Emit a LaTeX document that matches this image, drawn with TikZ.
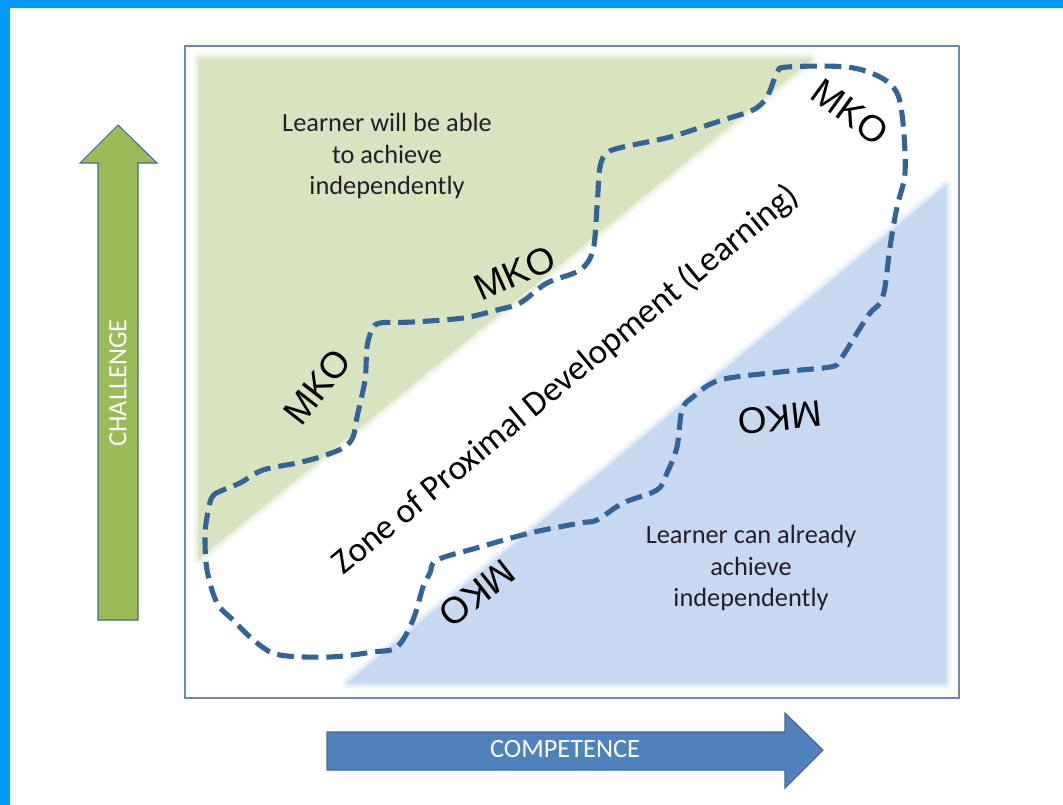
\documentclass[tikz,border=0pt]{standalone}
\usepackage{fontspec}
\setmainfont{Carlito}
\newfontfamily\mkofont{Liberation Sans}
\definecolor{framecyan}{RGB}{0,153,255}
\definecolor{boxedge}{RGB}{110,135,175}
\definecolor{greenzone}{RGB}{216,228,191}
\definecolor{bluezone}{RGB}{198,217,240}
\definecolor{blobblue}{RGB}{50,100,152}
\definecolor{arrowgreen}{RGB}{155,187,89}
\definecolor{arrowblue}{RGB}{79,129,189}
\definecolor{arrowedge}{RGB}{70,100,145}
\definecolor{notetext}{RGB}{35,30,40}

\begin{document}
\begin{tikzpicture}[x=0.02cm,y=-0.02cm,
    zoneline/.style={draw=blobblue,line width=2.9pt,dash pattern=on 9.5pt off 4.5pt},
    softfill/.style={fill=#1,draw=#1,line join=round,
        postaction={draw=#1,line width=6pt,opacity=0.3},
        postaction={draw=#1,line width=3pt,opacity=0.4}},
    mko/.style={font=\mkofont\fontsize{21}{21}\selectfont},
    note/.style={align=center,text=notetext,font=\fontsize{15}{18}\selectfont},
    axislabel/.style={text=white,font=\fontsize{15}{18}\selectfont},
    axisarrow/.style={draw=arrowedge,line width=0.6pt,line join=miter}]
    \useasboundingbox (0,0) rectangle (1063,805);

    % outer frame
    \fill[framecyan] (0,0) rectangle (10,805);
    \fill[framecyan] (0,0) rectangle (1063,8);

    % chart area
    \draw[boxedge,line width=0.9pt,fill=white] (185,46) rectangle (959,698);
    \path[softfill=greenzone] (199,59) -- (811,59) -- (199,558) -- cycle;
    \path[softfill=bluezone] (946,186) -- (946,683) -- (348,683) -- cycle;

    % zone boundary
    \draw[zoneline] plot[smooth cycle,tension=0.55] coordinates {
        (207,517) (212,497) (223,490) (240,483) (263,470) (297,463) (320,457)
        (343,448) (353,437) (357,417) (365,380) (367,347) (372,330) (380,323)
        (413,322) (463,318) (497,310) (520,303) (547,283) (580,270) (593,250)
        (597,207) (600,167) (607,153) (623,147) (670,137) (723,120) (753,110)
        (767,97) (777,73) (787,67) (847,67) (880,77) (897,93) (903,123)
        (905,173) (897,207) (890,247) (885,287) (880,303) (870,313) (857,333)
        (840,360) (830,367) (780,372) (720,380) (693,397) (682,410) (677,447)
        (667,473) (657,490) (623,503) (597,520) (580,523) (530,533) (480,547)
        (437,560) (430,573) (423,587) (413,620) (397,647) (373,652) (330,657)
        (280,655) (257,643) (233,620) (217,603) (207,570) (205,537)};

    \node[note] (above) at (387,156) {Learner will be able\\to achieve\\independently};
    \node[note] (below) at (751,568) {Learner can already\\achieve\\independently};
    \node[rotate=39.5,font=\fontsize{20}{20}\selectfont] (zpd) at (566,380)
        {Zone of Proximal Development (Learning)};

    \node[mko,rotate=52] (mkoA) at (317,387) {MKO};
    \node[mko,rotate=24] (mkoB) at (515,273) {MKO};
    \node[mko,rotate=-36] (mkoC) at (850,112) {MKO};
    \node[mko,rotate=186] (mkoD) at (780,418) {MKO};
    \node[mko,rotate=218] (mkoE) at (477,593) {MKO};

    % axis arrows
    \fill[arrowgreen,axisarrow] (98,620) -- (98,163) -- (80,163) -- (118,125)
        -- (157,163) -- (138,163) -- (138,620) -- cycle;
    \node[axislabel,rotate=90] (challenge) at (118,383) {CHALLENGE};
    \fill[arrowblue,axisarrow] (327,732) -- (785,732) -- (785,713) -- (823,750)
        -- (785,788) -- (785,770) -- (327,770) -- cycle;
    \node[axislabel] (competence) at (565,749) {COMPETENCE};
\end{tikzpicture}
\end{document}
